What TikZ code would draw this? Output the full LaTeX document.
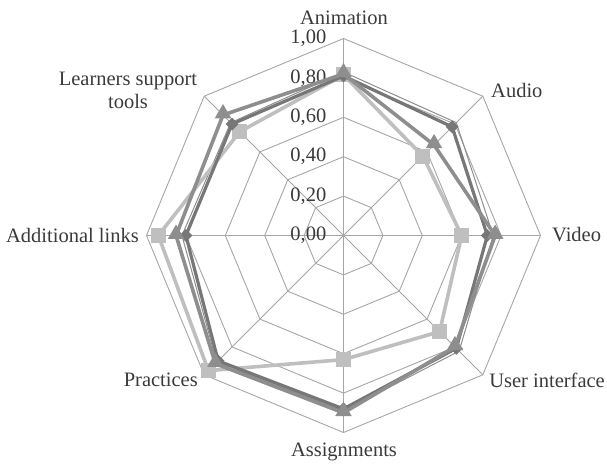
\documentclass[tikz,border=0pt]{standalone}
\usepackage{fontspec}
\setmainfont{Liberation Serif}
\usetikzlibrary{shapes.geometric}
\definecolor{gridc}{HTML}{A6A6A6}
\definecolor{txtc}{HTML}{3A3A3A}
\definecolor{sqc}{HTML}{BFBFBF}
\definecolor{trc}{HTML}{8E8E8E}
\definecolor{dmc}{HTML}{777777}
\tikzset{
  gridline/.style={draw=gridc, line width=0.9pt, line join=miter},
  lbl/.style={text=txtc, font=\fontsize{20.5}{23}\selectfont, inner sep=0pt},
  ticklbl/.style={text=txtc, font=\fontsize{20.5}{23}\selectfont, inner sep=0pt, anchor=east},
  sqline/.style={draw=sqc, line width=3.6pt, line join=round},
  trline/.style={draw=trc, line width=3.6pt, line join=round},
  dmline/.style={draw=dmc, line width=3.2pt, line join=round},
  thinline/.style={draw=trc, line width=1pt, line join=round},
  sqmark/.style={rectangle, fill=sqc, minimum size=15pt, inner sep=0pt},
  trmark/.style={regular polygon, regular polygon sides=3, fill=trc, minimum size=19pt, inner sep=0pt},
  dmmark/.style={diamond, fill=dmc, minimum size=13pt, inner sep=0pt},
}
\begin{document}
\begin{tikzpicture}[x=1pt,y=1pt]
\useasboundingbox (0,-466) rectangle (607,0);
\begin{scope}[shift={(343.5,-235.5)}]
  % grid
  \foreach \k in {1,...,5} {
    \draw[gridline] (90:{39.4*\k}) -- (45:{39.4*\k}) -- (0:{39.4*\k}) -- (-45:{39.4*\k}) -- (-90:{39.4*\k}) -- (-135:{39.4*\k}) -- (180:{39.4*\k}) -- (135:{39.4*\k}) -- cycle;
  }
  \coordinate (O) at (0,0);
  \foreach \i in {1,...,8} {
    \coordinate (ax\i) at ({135-45*\i}:197);
    \draw[gridline] (O) -- (ax\i);
  }
  % tick labels
  \foreach \k/\t in {0/{0,00},1/{0,20},2/{0,40},3/{0,60},4/{0,80},5/{1,00}} {
    \node[ticklbl] (tk\k) at (-17,{39.4*\k}) {\t};
  }
  % series: square (light)
  \foreach \v [count=\i] in {0.815,0.57,0.60,0.69,0.63,0.97,0.94,0.745}
    \coordinate (s\i) at ({135-45*\i}:{197*\v});
  % series: diamond (dark)
  \foreach \v [count=\i] in {0.81,0.78,0.73,0.81,0.88,0.90,0.80,0.80}
    \coordinate (d\i) at ({135-45*\i}:{197*\v});
  % series: triangle (medium)
  \foreach \v [count=\i] in {0.82,0.65,0.77,0.80,0.90,0.92,0.85,0.865}
    \coordinate (t\i) at ({135-45*\i}:{197*\v});
  % series: thin line
  \foreach \v [count=\i] in {0.83,0.81,0.76,0.83,0.89,0.91,0.82,0.81}
    \coordinate (n\i) at ({135-45*\i}:{197*\v});

  \draw[thinline] (n1) -- (n2) -- (n3) -- (n4) -- (n5) -- (n6) -- (n7) -- (n8) -- cycle;
  \draw[sqline] (s1) -- (s2) -- (s3) -- (s4) -- (s5) -- (s6) -- (s7) -- (s8) -- cycle;
  \foreach \i in {1,...,8} \node[sqmark] (ms\i) at (s\i) {};
  \draw[dmline] (d1) -- (d2) -- (d3) -- (d4) -- (d5) -- (d6) -- (d7) -- (d8) -- cycle;
  \foreach \i in {1,...,8} \node[dmmark] (md\i) at (d\i) {};
  \draw[trline] (t1) -- (t2) -- (t3) -- (t4) -- (t5) -- (t6) -- (t7) -- (t8) -- cycle;
  \foreach \i in {1,...,8} \node[trmark] (mt\i) at ([yshift=1.5pt]t\i) {};
\end{scope}
% axis labels
\node[lbl] (lanim) at (344,-18) {Animation};
\node[lbl, anchor=west] (laudio) at (491,-90) {Audio};
\node[lbl, anchor=west] (lvideo) at (552,-235) {Video};
\node[lbl, anchor=east] (lui) at (605,-380) {User interface};
\node[lbl] (lassign) at (344,-452) {Assignments};
\node[lbl, anchor=east] (lprac) at (198,-380) {Practices};
\node[lbl, anchor=east] (laddl) at (139,-235) {Additional links};
\node[lbl, align=center] (llearn) at (128,-90) {Learners support\\tools};
\end{tikzpicture}
\end{document}
